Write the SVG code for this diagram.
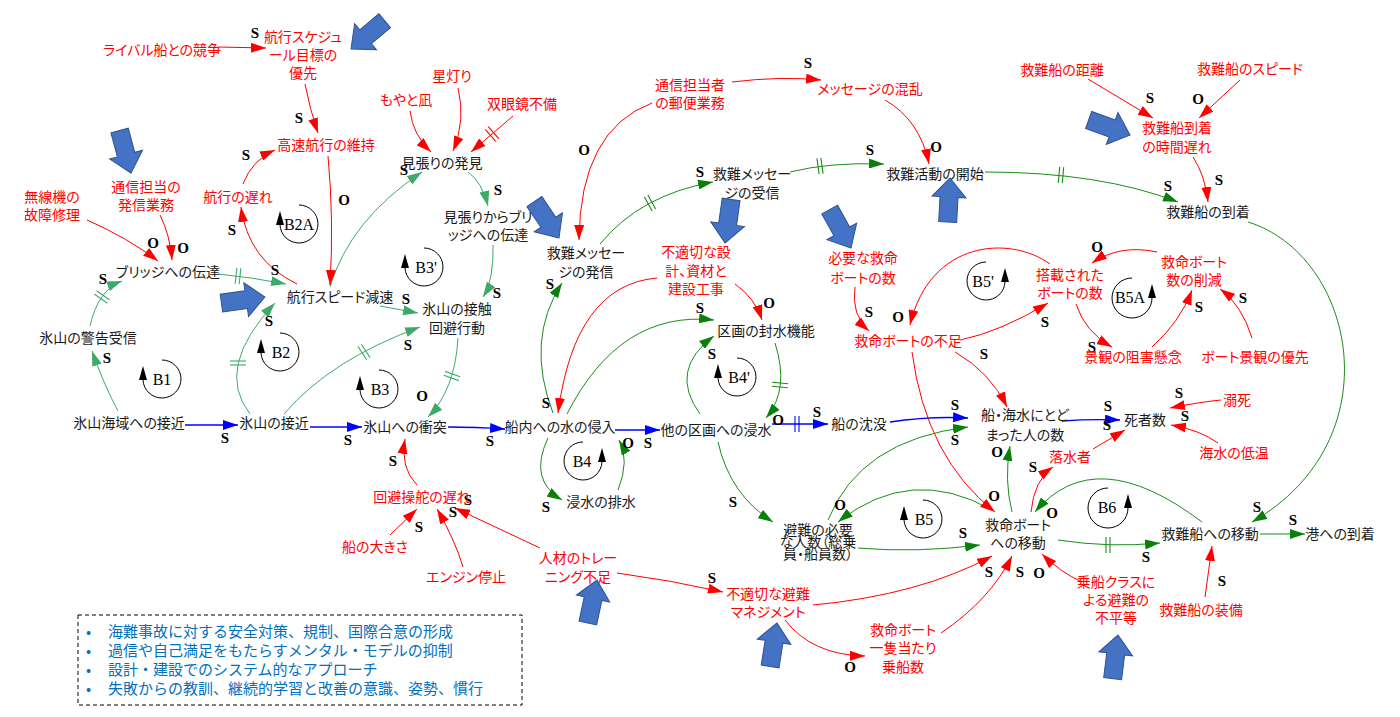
<svg xmlns="http://www.w3.org/2000/svg" width="1400" height="717" viewBox="0 0 1400 717">
<style>
.tk{font-family:"Noto Sans CJK JP","Noto Sans CJK SC",sans-serif;font-size:14px;fill:#1a1a1a;text-anchor:middle;font-feature-settings:"palt"}
.tr{font-family:"Noto Sans CJK JP","Noto Sans CJK SC",sans-serif;font-size:14px;fill:#ff0000;text-anchor:middle;font-feature-settings:"palt"}
.pol{font-family:"Liberation Serif",serif;font-weight:bold;font-size:15px;text-anchor:middle;fill:#000}
.lp{font-family:"Liberation Serif",serif;font-size:16px;text-anchor:middle;fill:#000}
.bl{stroke:#0000ff;stroke-width:1.4;fill:none;marker-end:url(#ab)}
.gl{stroke:#3daa6a;stroke-width:1;fill:none;marker-end:url(#agl)}
.gd{stroke:#1a8c1a;stroke-width:1;fill:none;marker-end:url(#agd)}
.rd{stroke:#ff0000;stroke-width:1;fill:none;marker-end:url(#ar)}
.loop{fill:none;stroke:#000;stroke-width:1}
.blk{fill:#4472c4;stroke:#2f528f;stroke-width:1}
.box{fill:#0070c0;font-family:"Noto Sans CJK JP","Noto Sans CJK SC",sans-serif;font-size:15px}
</style>
<defs>
<marker id="ab" markerUnits="userSpaceOnUse" markerWidth="15" markerHeight="10" refX="15" refY="5" orient="auto"><path d="M0,0 L15,5 L0,10 z" fill="#0000ff"/></marker>
<marker id="agl" markerUnits="userSpaceOnUse" markerWidth="15" markerHeight="10" refX="15" refY="5" orient="auto"><path d="M0,0 L15,5 L0,10 z" fill="#3daa6a"/></marker>
<marker id="agd" markerUnits="userSpaceOnUse" markerWidth="15" markerHeight="10" refX="15" refY="5" orient="auto"><path d="M0,0 L15,5 L0,10 z" fill="#0a800a"/></marker>
<marker id="ar" markerUnits="userSpaceOnUse" markerWidth="15" markerHeight="10" refX="15" refY="5" orient="auto"><path d="M0,0 L15,5 L0,10 z" fill="#ff0000"/></marker>
<g id="dl" stroke-width="1.1"><line x1="-2" y1="-8" x2="-2" y2="8"/><line x1="2" y1="-8" x2="2" y2="8"/></g>
<path id="fat" d="M0,0 L17,19 L9,19 L9,44 L-9,44 L-9,19 L-17,19 Z"/>
</defs>
<rect width="1400" height="717" fill="#fff"/>

<g id="connectors">
<g id="blue">
<path class="bl" d="M185,425 L238,425"/>
<path class="bl" d="M310,427 L362,427"/>
<path class="bl" d="M448,427 Q475,427 505,429"/>
<path class="bl" d="M615,430 L660,430"/>
<path class="bl" d="M772,424 L828,424"/>
<path class="bl" d="M890,422 Q930,416 968,418"/>
<path class="bl" d="M1062,421 Q1090,419 1120,420"/>
</g>
<g id="green">
<path class="gl" d="M118,411 Q104,385 92,351"/>
<path class="gl" d="M90,326 Q98,290 122,281"/>
<path class="gl" d="M218,274 Q250,277 286,284"/>
<path class="gl" d="M250,414 Q214,368 275,303"/>
<path class="gl" d="M284,414 Q330,360 420,327"/>
<path class="gl" d="M380,306 L418,313"/>
<path class="gl" d="M330,287 Q350,220 422,172"/>
<path class="gl" d="M468,172 Q482,182 488,206"/>
<path class="gl" d="M493,245 Q494,280 483,297"/>
<path class="gl" d="M458,338 Q455,390 428,417"/>
<path class="gd" d="M553,413 Q525,340 562,283"/>
<path class="gd" d="M567,414 Q620,310 714,320"/>
<path class="gd" d="M600,244 Q640,195 713,182"/>
<path class="gd" d="M790,172 Q830,162 884,164"/>
<path class="gd" d="M985,172 Q1100,172 1178,202"/>
<path class="gd" d="M1248,222 C1355,255 1395,440 1252,522"/>
<path class="gd" d="M1260,534 L1305,534"/>
<path class="gd" d="M700,414 Q668,370 714,336"/>
<path class="gd" d="M775,343 Q790,390 766,418"/>
<path class="gd" d="M548,438 Q528,480 562,500"/>
<path class="gd" d="M618,490 Q630,460 619,440"/>
<path class="gd" d="M718,442 Q730,495 773,522"/>
<path class="gd" d="M858,548 Q915,553 980,545"/>
<path class="gd" d="M828,520 Q860,440 968,427"/>
<path class="gd" d="M992,510 Q911,464 838,522"/>
<path class="gd" d="M1012,512 Q1004,480 1010,446"/>
<path class="gd" d="M1058,540 Q1110,548 1160,543"/>
<path class="gd" d="M1202,522 Q1095,441 1035,512"/>
</g>
<g id="red">
<path class="rd" d="M218,47 L266,48"/>
<path class="rd" d="M305,84 Q310,110 318,133"/>
<path class="rd" d="M297,284 Q248,260 241,207"/>
<path class="rd" d="M243,184 Q252,160 275,150"/>
<path class="rd" d="M328,156 Q334,220 330,285"/>
<path class="rd" d="M87,220 Q128,238 158,261"/>
<path class="rd" d="M160,215 Q170,235 172,260"/>
<path class="rd" d="M410,111 Q413,135 431,152"/>
<path class="rd" d="M458,88 Q466,120 453,151"/>
<path class="rd" d="M513,116 L471,152"/>
<path class="rd" d="M652,103 Q580,130 579,240"/>
<path class="rd" d="M732,82 Q780,76 821,80"/>
<path class="rd" d="M885,100 Q920,120 929,164"/>
<path class="rd" d="M1088,79 L1153,118"/>
<path class="rd" d="M1240,80 L1199,118"/>
<path class="rd" d="M1193,157 Q1205,175 1208,202"/>
<path class="rd" d="M735,284 Q755,298 762,320"/>
<path class="rd" d="M657,278 Q575,285 558,413"/>
<path class="rd" d="M855,287 Q851,315 869,331"/>
<path class="rd" d="M1050,264 C1010,235 930,240 910,325"/>
<path class="rd" d="M960,340 Q1000,332 1048,303"/>
<path class="rd" d="M955,352 Q990,372 1007,407"/>
<path class="rd" d="M912,352 Q926,458 995,512"/>
<path class="rd" d="M1076,304 Q1085,332 1112,347"/>
<path class="rd" d="M1152,347 Q1180,322 1192,290"/>
<path class="rd" d="M1252,338 Q1242,305 1220,289"/>
<path class="rd" d="M1157,252 Q1120,244 1092,263"/>
<path class="rd" d="M1221,400 Q1200,402 1170,408"/>
<path class="rd" d="M1218,443 Q1200,430 1171,425"/>
<path class="rd" d="M1093,449 L1125,430"/>
<path class="rd" d="M1031,512 Q1034,480 1053,467"/>
<path class="rd" d="M1082,582 Q1060,572 1042,554"/>
<path class="rd" d="M1205,597 L1212,546"/>
<path class="rd" d="M813,605 Q920,595 992,556"/>
<path class="rd" d="M941,633 Q990,600 1012,556"/>
<path class="rd" d="M785,620 Q812,655 865,656"/>
<path class="rd" d="M617,573 Q670,580 723,592"/>
<path class="rd" d="M540,548 L455,508"/>
<path class="rd" d="M463,567 Q455,540 437,509"/>
<path class="rd" d="M390,535 L417,509"/>
<path class="rd" d="M417,485 Q400,468 405,439"/>
</g>
<g id="delays">
<use href="#dl" transform="translate(102,297) rotate(-55)" stroke="#3daa6a"/>
<use href="#dl" transform="translate(238,276) rotate(6)" stroke="#3daa6a"/>
<use href="#dl" transform="translate(238,363) rotate(-90)" stroke="#3daa6a"/>
<use href="#dl" transform="translate(364,352) rotate(-33)" stroke="#3daa6a"/>
<use href="#dl" transform="translate(452,376) rotate(110)" stroke="#3daa6a"/>
<use href="#dl" transform="translate(650,203) rotate(-29)" stroke="#1a8c1a"/>
<use href="#dl" transform="translate(820,166) rotate(-8)" stroke="#1a8c1a"/>
<use href="#dl" transform="translate(1061,175) rotate(5)" stroke="#1a8c1a"/>
<use href="#dl" transform="translate(780,385) rotate(95)" stroke="#1a8c1a"/>
<use href="#dl" transform="translate(797,424)" stroke="#0000ff"/>
<use href="#dl" transform="translate(1108,545)" stroke="#1a8c1a"/>
<use href="#dl" transform="translate(492,134) rotate(139)" stroke="#ff0000"/>
</g>
<g id="polarity" class="pol">
<text x="255" y="38">S</text>
<text x="299" y="123">S</text>
<text x="232" y="235">S</text>
<text x="246" y="160">S</text>
<text x="344" y="205">O</text>
<text x="153" y="248">O</text>
<text x="183" y="253">O</text>
<text x="103" y="284">S</text>
<text x="107" y="363">S</text>
<text x="275" y="275">S</text>
<text x="269" y="326">S</text>
<text x="225" y="443">S</text>
<text x="348" y="445">S</text>
<text x="406" y="304">S</text>
<text x="408" y="350">S</text>
<text x="404" y="175">S</text>
<text x="498" y="195">S</text>
<text x="497" y="298">S</text>
<text x="422" y="401">O</text>
<text x="490" y="446">S</text>
<text x="393" y="466">S</text>
<text x="419" y="532">S</text>
<text x="453" y="517">S</text>
<text x="468" y="505">S</text>
<text x="550" y="289">S</text>
<text x="546" y="408">S</text>
<text x="584" y="155">O</text>
<text x="808" y="68">S</text>
<text x="936" y="152">O</text>
<text x="700" y="177">S</text>
<text x="870" y="155">S</text>
<text x="1168" y="191">S</text>
<text x="1150" y="103">S</text>
<text x="1198" y="104">O</text>
<text x="1219" y="185">S</text>
<text x="700" y="313">S</text>
<text x="769" y="308">O</text>
<text x="712" y="359">S</text>
<text x="778" y="425">O</text>
<text x="817" y="417">S</text>
<text x="648" y="448">S</text>
<text x="628" y="448">O</text>
<text x="546" y="512">S</text>
<text x="869" y="317">S</text>
<text x="898" y="322">O</text>
<text x="1045" y="327">S</text>
<text x="984" y="359">S</text>
<text x="994" y="501">O</text>
<text x="955" y="410">S</text>
<text x="955" y="445">S</text>
<text x="1108" y="411">S</text>
<text x="1107" y="430">S</text>
<text x="1179" y="398">S</text>
<text x="1185" y="421">S</text>
<text x="1092" y="352">S</text>
<text x="1199" y="312">S</text>
<text x="1243" y="303">S</text>
<text x="1097" y="252">O</text>
<text x="733" y="507">S</text>
<text x="840" y="510">O</text>
<text x="963" y="538">S</text>
<text x="997" y="457">O</text>
<text x="1033" y="472">S</text>
<text x="1052" y="518">O</text>
<text x="1146" y="562">S</text>
<text x="1257" y="512">S</text>
<text x="1293" y="525">S</text>
<text x="1039" y="578">O</text>
<text x="1222" y="586">S</text>
<text x="989" y="577">S</text>
<text x="1020" y="577">S</text>
<text x="850" y="672">O</text>
<text x="712" y="583">S</text>
</g>
</g>

<g id="loops">
<g id="loop-B2A"><path class="loop" d="M280,225 A19,19 0 1 0 299,205"/><polygon points="276,225 284,225 280,211"/><text class="lp" x="299" y="230">B2A</text></g>
<g id="loop-B1"><path class="loop" d="M143,380 A19,19 0 1 0 162,360"/><polygon points="139,380 147,380 143,366"/><text class="lp" x="162" y="385">B1</text></g>
<g id="loop-B2"><path class="loop" d="M261,353 A19,19 0 1 0 280,333"/><polygon points="257,353 265,353 261,339"/><text class="lp" x="281" y="358">B2</text></g>
<g id="loop-B3p"><path class="loop" d="M405,268 A19,19 0 1 0 424,248"/><polygon points="401,268 409,268 405,254"/><text class="lp" x="426" y="273">B3'</text></g>
<g id="loop-B3"><path class="loop" d="M360,390 A19,19 0 1 0 379,370"/><polygon points="356,390 364,390 360,376"/><text class="lp" x="380" y="395">B3</text></g>
<g id="loop-B4"><path class="loop" d="M602,462 A19,19 0 1 1 583,442"/><polygon points="598,462 606,462 602,448"/><text class="lp" x="582" y="467">B4</text></g>
<g id="loop-B4p"><path class="loop" d="M718,378 A19,19 0 1 0 737,358"/><polygon points="714,378 722,378 718,364"/><text class="lp" x="739" y="383">B4'</text></g>
<g id="loop-B5p"><path class="loop" d="M1005,282 A19,19 0 1 1 986,262"/><polygon points="1001,282 1009,282 1005,268"/><text class="lp" x="983" y="287">B5'</text></g>
<g id="loop-B5A"><path class="loop" d="M1152,298 A20,20 0 1 1 1132,278"/><polygon points="1148,298 1156,298 1152,284"/><text class="lp" x="1130" y="303">B5A</text></g>
<g id="loop-B5"><path class="loop" d="M904,520 A19,19 0 1 0 923,500"/><polygon points="900,520 908,520 904,506"/><text class="lp" x="924" y="525">B5</text></g>
<g id="loop-B6"><path class="loop" d="M1128,508 A20,20 0 1 1 1108,488"/><polygon points="1124,508 1132,508 1128,494"/><text class="lp" x="1107" y="513">B6</text></g>
</g>

<g id="nodes">
<g id="n-warning"><text class="tk" x="88" y="343">氷山の警告受信</text></g>
<g id="n-approach-area"><text class="tk" x="129" y="428">氷山海域への接近</text></g>
<g id="n-approach"><text class="tk" x="274" y="428">氷山の接近</text></g>
<g id="n-bridge"><text class="tk" x="168" y="277">ブリッジへの伝達</text></g>
<g id="n-slowdown"><text class="tk" x="340" y="302">航行スピード減速</text></g>
<g id="n-lookout"><text class="tk" x="442" y="168">見張りの発見</text></g>
<g id="n-lookout-bridge"><text class="tk" x="488" y="222">見張りからブリ<tspan x="488" y="240">ッジへの伝達</tspan></text></g>
<g id="n-avoid"><text class="tk" x="457" y="314">氷山の接触<tspan x="457" y="333">回避行動</tspan></text></g>
<g id="n-collision"><text class="tk" x="405" y="432">氷山への衝突</text></g>
<g id="n-ingress"><text class="tk" x="560" y="432">船内への水の侵入</text></g>
<g id="n-flooding"><text class="tk" x="716" y="435">他の区画への浸水</text></g>
<g id="n-msg-send"><text class="tk" x="586" y="258">救難メッセー<tspan x="586" y="277">ジの発信</tspan></text></g>
<g id="n-msg-recv"><text class="tk" x="752" y="179">救難メッセー<tspan x="752" y="198">ジの受信</tspan></text></g>
<g id="n-rescue-start"><text class="tk" x="935" y="179">救難活動の開始</text></g>
<g id="n-rescue-arrive"><text class="tk" x="1208" y="217">救難船の到着</text></g>
<g id="n-seal"><text class="tk" x="766" y="336">区画の封水機能</text></g>
<g id="n-sinking"><text class="tk" x="859" y="429">船の沈没</text></g>
<g id="n-stranded"><text class="tk" x="1025" y="420">船・海水にとど<tspan x="1025" y="440">まった人の数</tspan></text></g>
<g id="n-deaths"><text class="tk" x="1145" y="425">死者数</text></g>
<g id="n-pump"><text class="tk" x="601" y="507">浸水の排水</text></g>
<g id="n-evac-need"><text class="tk" x="818" y="535">避難の必要<tspan x="818" y="547">な人数（総乗</tspan><tspan x="818" y="559">員・船員数）</tspan></text></g>
<g id="n-to-lifeboat"><text class="tk" x="1018" y="530">救命ボート<tspan x="1018" y="548">への移動</tspan></text></g>
<g id="n-to-rescueship"><text class="tk" x="1210" y="539">救難船への移動</text></g>
<g id="n-port"><text class="tk" x="1340" y="539">港への到着</text></g>

<g id="n-rival"><text class="tr" x="162" y="55">ライバル船との競争</text></g>
<g id="n-schedule"><text class="tr" x="303" y="42">航行スケジュ<tspan x="303" y="60">ール目標の</tspan><tspan x="303" y="78">優先</tspan></text></g>
<g id="n-highspeed"><text class="tr" x="326" y="150">高速航行の維持</text></g>
<g id="n-delay"><text class="tr" x="238" y="202">航行の遅れ</text></g>
<g id="n-comm-send"><text class="tr" x="146" y="192">通信担当の<tspan x="146" y="210">発信業務</tspan></text></g>
<g id="n-radio"><text class="tr" x="52" y="202">無線機の<tspan x="52" y="220">故障修理</tspan></text></g>
<g id="n-haze"><text class="tr" x="406" y="105">もやと凪</text></g>
<g id="n-starlight"><text class="tr" x="452" y="81">星灯り</text></g>
<g id="n-binoculars"><text class="tr" x="522" y="109">双眼鏡不備</text></g>
<g id="n-mail"><text class="tr" x="690" y="90">通信担当者<tspan x="690" y="108">の郵便業務</tspan></text></g>
<g id="n-confusion"><text class="tr" x="870" y="94">メッセージの混乱</text></g>
<g id="n-distance"><text class="tr" x="1062" y="75">救難船の距離</text></g>
<g id="n-speed"><text class="tr" x="1250" y="74">救難船のスピード</text></g>
<g id="n-time-delay"><text class="tr" x="1177" y="133">救難船到着<tspan x="1177" y="152">の時間遅れ</tspan></text></g>
<g id="n-design"><text class="tr" x="696" y="257">不適切な設<tspan x="696" y="276">計、資材と</tspan><tspan x="696" y="294">建設工事</tspan></text></g>
<g id="n-needed-boats"><text class="tr" x="863" y="263">必要な救命<tspan x="863" y="283">ボートの数</tspan></text></g>
<g id="n-shortage"><text class="tr" x="908" y="346">救命ボートの不足</text></g>
<g id="n-loaded"><text class="tr" x="1070" y="280">搭載された<tspan x="1070" y="298">ボートの数</tspan></text></g>
<g id="n-reduction"><text class="tr" x="1194" y="267">救命ボート<tspan x="1194" y="285">数の削減</tspan></text></g>
<g id="n-view-concern"><text class="tr" x="1133" y="362">景観の阻害懸念</text></g>
<g id="n-view-priority"><text class="tr" x="1255" y="362">ボート景観の優先</text></g>
<g id="n-drowning"><text class="tr" x="1237" y="405">溺死</text></g>
<g id="n-cold"><text class="tr" x="1234" y="458">海水の低温</text></g>
<g id="n-overboard"><text class="tr" x="1070" y="462">落水者</text></g>
<g id="n-class"><text class="tr" x="1116" y="587">乗船クラスに<tspan x="1116" y="605">よる避難の</tspan><tspan x="1116" y="623">不平等</tspan></text></g>
<g id="n-equipment"><text class="tr" x="1201" y="615">救難船の装備</text></g>
<g id="n-steer-delay"><text class="tr" x="422" y="502">回避操舵の遅れ</text></g>
<g id="n-size"><text class="tr" x="375" y="552">船の大きさ</text></g>
<g id="n-engine"><text class="tr" x="466" y="582">エンジン停止</text></g>
<g id="n-training"><text class="tr" x="578" y="563">人材のトレー<tspan x="578" y="582">ニング不足</tspan></text></g>
<g id="n-evac-mgmt"><text class="tr" x="768" y="599">不適切な避難<tspan x="768" y="617">マネジメント</tspan></text></g>
<g id="n-per-boat"><text class="tr" x="903" y="635">救命ボート<tspan x="903" y="653">一隻当たり</tspan><tspan x="903" y="672">乗船数</tspan></text></g>
</g>

<g id="block-arrows" class="blk">
<use href="#fat" transform="translate(351,49) rotate(-130)"/>
<use href="#fat" transform="translate(131,173) rotate(165)"/>
<use href="#fat" transform="translate(265,297) rotate(82)"/>
<use href="#fat" transform="translate(559,238) rotate(146)"/>
<use href="#fat" transform="translate(725,243) rotate(-172)"/>
<use href="#fat" transform="translate(851,248) rotate(151)"/>
<use href="#fat" transform="translate(950,178) rotate(3)"/>
<use href="#fat" transform="translate(1130,135) rotate(110)"/>
<use href="#fat" transform="translate(597,580) rotate(12)"/>
<use href="#fat" transform="translate(777,623) rotate(9)"/>
<use href="#fat" transform="translate(1118,635) rotate(7)"/>
</g>

<g id="notes">
<rect x="78" y="615" width="444" height="90" fill="none" stroke="#000" stroke-width="1" stroke-dasharray="4,3"/>
<g class="box">
<text x="86" y="637">•</text><text x="108" y="637">海難事故に対する安全対策、規制、国際合意の形成</text>
<text x="86" y="656">•</text><text x="108" y="656">過信や自己満足をもたらすメンタル・モデルの抑制</text>
<text x="86" y="675">•</text><text x="108" y="675">設計・建設でのシステム的なアプローチ</text>
<text x="86" y="694">•</text><text x="108" y="694">失敗からの教訓、継続的学習と改善の意識、姿勢、慣行</text>
</g>
</g>
</svg>
